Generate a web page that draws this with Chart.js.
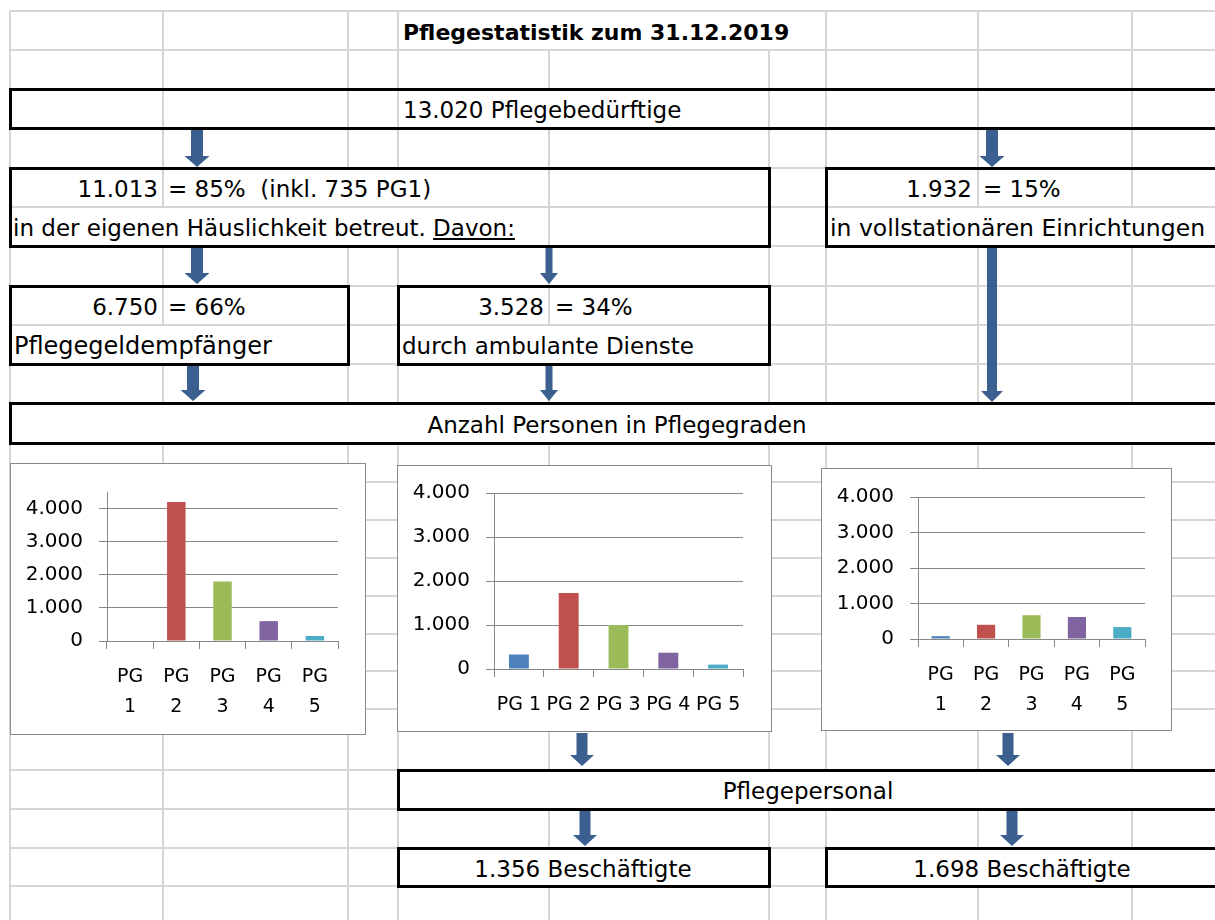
<!DOCTYPE html>
<html lang="de">
<head>
<meta charset="utf-8">
<title>Pflegestatistik zum 31.12.2019</title>
<script src="https://cdn.jsdelivr.net/npm/chart.js"></script>
<style>
  html, body { margin: 0; padding: 0; background: #fff; }
  body { width: 1215px; height: 920px; overflow: hidden; position: relative;
         font-family: 'DejaVu Sans', sans-serif; color: #000; }
  .gl { position: absolute; background: #d6d6d6; }
  .box { position: absolute; border: 3px solid #000; box-sizing: border-box; }
  .t { position: absolute; display: flex; align-items: center; white-space: pre;
       font-size: 23px; padding-top: 3px; box-sizing: border-box; }
  .chartbox { position: absolute; background: #fff; border: 1.5px solid #8a8a8a; box-sizing: border-box; }
  canvas.c { position: absolute; }
  svg { position: absolute; left: 0; top: 0; }
</style>
</head>
<body>
<svg id="arrows" width="1215" height="920"></svg>
<script>
// ---------- data ----------
const categories = ["PG 1", "PG 2", "PG 3", "PG 4", "PG 5"];
const pflegegeldValues = [0, 4200, 1800, 600, 150];      // Pflegegeldempfänger
const ambulantValues   = [330, 1730, 1000, 370, 100];    // ambulante Dienste
const stationaerValues = [80, 400, 670, 620, 335];       // vollstationär
const yTickValues = [0, 1000, 2000, 3000, 4000];
const barColors = ["#4F81BD", "#C0504D", "#9BBB59", "#8064A2", "#4BACC6"];

const titleText = "Pflegestatistik zum 31.12.2019";
const totalText = "13.020 Pflegebedürftige";
const homeTotal = "11.013", homeShare = "= 85%  (inkl. 735 PG1)";
const homeLabel = "in der eigenen Häuslichkeit betreut. ", homeDavon = "Davon:";
const statTotal = "1.932", statShare = "= 15%", statLabel = "in vollstationären Einrichtungen";
const geldTotal = "6.750", geldShare = "= 66%", geldLabel = "Pflegegeldempfänger";
const ambTotal = "3.528", ambShare = "= 34%", ambLabel = "durch ambulante Dienste";
const gradeHeader = "Anzahl Personen in Pflegegraden";
const staffHeader = "Pflegepersonal";
const staffAmb = "1.356 Beschäftigte", staffStat = "1.698 Beschäftigte";

// ---------- sheet geometry ----------
const COLS = [10, 163, 348, 398, 549, 769, 826, 978, 1132];
const ROWS = [11, 50, 89, 128, 168, 207, 246, 286, 325, 364, 403, 443, 482, 520, 558, 596, 634, 671, 709, 770, 809, 848, 886, 925];
const hidden = {
  0: [549, 769],
  2: [549],
  4: [348, 398],
  5: [163, 348, 398, 978, 1132],
  8: [163, 549],
  10: [163, 348, 398, 549, 769, 826, 978, 1132],
  19: [549, 769, 826, 978, 1132],
  21: [549, 978, 1132]
};
const body = document.body;
function el(cls, css) { const d = document.createElement('div'); d.className = cls; Object.assign(d.style, css); body.insertBefore(d, document.getElementById('arrows')); return d; }

// horizontal gridlines
ROWS.slice(0, -1).forEach(y => el('gl', { left: '10px', top: (y - 1) + 'px', width: '1205px', height: '2px' }));
// vertical gridlines
for (let r = 0; r < ROWS.length - 1; r++) {
  COLS.forEach(x => {
    if (hidden[r] && hidden[r].includes(x)) return;
    el('gl', { left: (x - 1) + 'px', top: ROWS[r] + 'px', width: '2px', height: (ROWS[r + 1] - ROWS[r]) + 'px' });
  });
}
// boxes
const boxes = [
  [10, 89, 1240, 128], [10, 168, 769, 246], [826, 168, 1240, 246],
  [10, 286, 348, 364], [398, 286, 769, 364], [10, 403, 1240, 443],
  [398, 770, 1240, 809], [398, 848, 769, 886], [826, 848, 1240, 886]
];
boxes.forEach(b => el('box', { left: (b[0] - 1) + 'px', top: (b[1] - 1) + 'px', width: (b[2] - b[0] + 3) + 'px', height: (b[3] - b[1] + 3) + 'px' }));

// texts
function txt(s, x, y0, y1, align, extra) {
  const css = { top: y0 + 'px', height: (y1 - y0) + 'px' };
  if (align === 'left') { css.left = x + 'px'; }
  else if (align === 'right') { css.left = (x - 600) + 'px'; css.width = '600px'; css.justifyContent = 'flex-end'; }
  else { css.left = (x - 600) + 'px'; css.width = '1200px'; css.justifyContent = 'center'; }
  const d = el('t', Object.assign(css, extra || {}));
  if (Array.isArray(s)) { s.forEach(p => { const sp = document.createElement('span'); sp.textContent = p.text; if (p.u) sp.style.textDecoration = 'underline'; d.appendChild(sp); }); }
  else d.textContent = s;
  return d;
}
txt(titleText, 403, 11, 50, 'left', { fontWeight: 'bold', fontSize: '22px' });
txt(totalText, 403, 89, 128, 'left');
txt(homeTotal, 158, 168, 207, 'right');
txt(homeShare, 168, 168, 207, 'left');
txt([{ text: homeLabel }, { text: homeDavon, u: true }], 13, 207, 246, 'left');
txt(statTotal, 972, 168, 207, 'right');
txt(statShare, 983, 168, 207, 'left');
txt(statLabel, 830, 207, 246, 'left', { fontSize: '23.5px' });
txt(geldTotal, 158, 286, 325, 'right');
txt(geldShare, 168, 286, 325, 'left');
txt(geldLabel, 14, 325, 364, 'left', { fontSize: '24px' });
txt(ambTotal, 544, 286, 325, 'right');
txt(ambShare, 555, 286, 325, 'left');
txt(ambLabel, 402, 325, 364, 'left');
txt(gradeHeader, 617, 403, 443, 'center');
txt(staffHeader, 808, 770, 809, 'center');
txt(staffAmb, 583, 848, 886, 'center');
txt(staffStat, 1022, 848, 886, 'center');

// arrows (decoration)
const arrowSpecs = [
  [197, 130, 167, 12, 25], [992, 130, 167, 12, 25],
  [197, 248, 284, 12, 25], [549, 248, 284, 7, 18],
  [992, 248, 402, 10, 22],
  [193, 366, 401, 12, 25], [549, 366, 401, 7, 18],
  [582, 733, 766, 11, 24], [1008, 733, 766, 11, 24],
  [585, 811, 846, 11, 24], [1012, 811, 846, 11, 24]
];
const svg = document.getElementById('arrows');
arrowSpecs.forEach(([cx, y0, y1, sw, hw]) => {
  const hh = 11;
  const pts = [[cx - sw / 2, y0], [cx + sw / 2, y0], [cx + sw / 2, y1 - hh], [cx + hw / 2, y1 - hh], [cx, y1], [cx - hw / 2, y1 - hh], [cx - sw / 2, y1 - hh]];
  const p = document.createElementNS('http://www.w3.org/2000/svg', 'polygon');
  p.setAttribute('points', pts.map(q => q.join(',')).join(' '));
  p.setAttribute('fill', '#3b5f8e');
  svg.appendChild(p);
});

// ---------- charts ----------
const fmt = v => String(v).replace(/\B(?=(\d{3})+(?!\d))/g, '.');
const gridColor = '#878787';
function makeChart(box, values, labels, yMax, yWidth, xHeight, padTop, padRight) {
  const [x0, y0, x1, y1] = box;
  el('chartbox', { left: x0 + 'px', top: y0 + 'px', width: (x1 - x0) + 'px', height: (y1 - y0) + 'px' });
  const cv = document.createElement('canvas');
  cv.className = 'c';
  cv.width = x1 - x0; cv.height = y1 - y0;
  cv.style.left = x0 + 'px'; cv.style.top = y0 + 'px';
  cv.style.width = (x1 - x0) + 'px'; cv.style.height = (y1 - y0) + 'px';
  body.appendChild(cv);
  new Chart(cv, {
    type: 'bar',
    data: { labels: labels, datasets: [{ data: values, backgroundColor: barColors, borderWidth: 0, categoryPercentage: 1.0, barPercentage: 0.4 }] },
    options: {
      responsive: false, animation: false, devicePixelRatio: 1,
      events: [],
      plugins: { legend: { display: false }, tooltip: { enabled: false }, title: { display: false } },
      layout: { padding: { top: padTop, right: padRight, left: 0, bottom: 0 } },
      scales: {
        x: {
          offset: true,
          grid: { display: true, drawOnChartArea: false, drawTicks: true, tickLength: 8, color: gridColor, lineWidth: 1, offset: true },
          border: { display: true, color: gridColor, width: 1 },
          ticks: { color: '#000', padding: 13, maxRotation: 0, minRotation: 0, autoSkip: false,
                   font: { family: "'DejaVu Sans', sans-serif", size: 19, lineHeight: 1.58 } },
          afterFit: s => { s.height = xHeight; }
        },
        y: {
          min: 0, max: yMax,
          grid: { color: gridColor, lineWidth: 1, tickLength: 8, drawTicks: true },
          border: { display: true, color: gridColor, width: 1 },
          ticks: { padding: 16, color: '#000', callback: v => fmt(v),
                   font: { family: "'DejaVu Sans', sans-serif", size: 20 } },
          afterBuildTicks: s => { s.ticks = yTickValues.map(v => ({ value: v })); },
          afterFit: s => { s.width = yWidth; }
        }
      }
    }
  });
}
const wrappedLabels = categories.map(c => c.split(' '));
makeChart([10, 463, 366, 735], pflegegeldValues, wrappedLabels, 4500, 97, 94, 29, 28);
makeChart([397, 465, 772, 732], ambulantValues, categories, 4000, 97, 63, 28, 29);
makeChart([821, 468, 1172, 731], stationaerValues, wrappedLabels, 4000, 97, 92, 29, 27);
</script>
</body>
</html>
